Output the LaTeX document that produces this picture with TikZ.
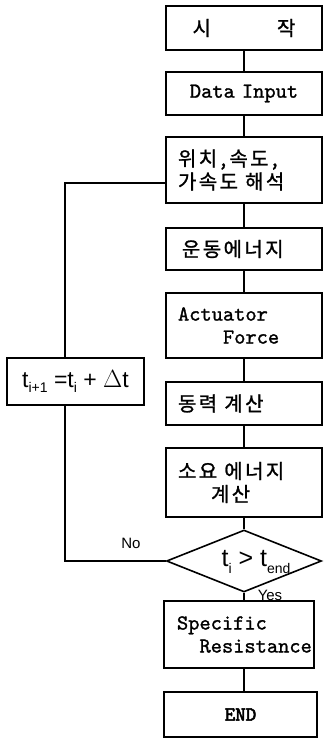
\documentclass[tikz,border=0pt]{standalone}
\usepackage{fontspec}
\newfontfamily\kr[LetterSpace=12,FakeBold=1.2]{Noto Sans CJK KR}
\newfontfamily\hand{Liberation Sans}
\newfontfamily\ty[FakeBold=1.2]{lmmono10-regular.otf}
\newfontfamily\tyb[FakeBold=3]{lmmono10-regular.otf}
\newcommand\krfont{\kr\fontsize{20}{23}\selectfont}
\newcommand\subtxt[1]{\raisebox{-0.25em}{\fontsize{14}{14}\selectfont #1}}
\usetikzlibrary{shapes.geometric}
\begin{document}
\begin{tikzpicture}[x=1pt,y=-1pt,line width=1.6pt,
  flowbox/.style={draw,rectangle,inner xsep=12pt,inner ysep=0pt,text width=132pt,align=left,
    font=\ty\fontsize{21.4}{23}\selectfont},
  lbl/.style={font=\hand\fontsize{15}{17}\selectfont,inner sep=0pt}]
\useasboundingbox (0,0) rectangle (324,740);
\node[flowbox,align=center,minimum height=44pt] (b1) at (244,28) {\krfont 시\hspace{66pt}작};
\node[flowbox,align=center,minimum height=43pt] (b2) at (244,93.5) {Data Input};
\node[flowbox,minimum height=66pt] (b3) at (244,170) {\krfont 위치\,,\,속도\,,\\가속도 해석};
\node[flowbox,minimum height=42pt] (b4) at (244,249) {\krfont \hspace*{4pt}운동에너지};
\node[flowbox,minimum height=65pt] (b5) at (244,325.5) {\mbox{Actuator}\\\mbox{\hspace*{45pt}Force}};
\node[flowbox,minimum height=43pt] (b6) at (244,403.5) {\krfont 동력 계산};
\node[flowbox,minimum height=69pt] (b7) at (244,482.5) {\krfont 소요 에너지\\\hspace*{33pt}계산};
\node[draw,diamond,minimum width=155pt,minimum height=62pt,inner sep=0pt] (d) at (244,561) {};
\node[font=\hand\fontsize{25}{26}\selectfont,inner sep=0pt] (dt) at (256,562) {t\subtxt{i} > t\subtxt{end}};
\node[flowbox,text width=137pt,inner xsep=6.5pt,minimum height=67pt] (s) at (239,634.5) {\mbox{\hspace*{6.5pt}Specific}\\\mbox{\hspace*{29pt}Resistance}};
\node[flowbox,text width=129pt,align=center,minimum height=45pt,font=\tyb\fontsize{20}{22}\selectfont] (e) at (240.5,714.5) {END};
\node[draw,rectangle,inner sep=0pt,minimum width=137pt,minimum height=47pt,font=\hand\fontsize{23}{24}\selectfont] (t) at (75.5,381.5) {t\subtxt{i+1} =t\subtxt{i} + $\Delta$t};
\node[lbl] (no) at (131,543) {No};
\node[lbl] (yes) at (270,595) {Yes};
\draw (b1.south) -- (b2.north);
\draw (b2.south) -- (b3.north);
\draw (b3.south) -- (b4.north);
\draw (b4.south) -- (b5.north);
\draw (b5.south) -- (b6.north);
\draw (b6.south) -- (b7.north);
\draw (b7.south) -- (d.north);
\draw (d.south) -- (d.south |- s.north);
\draw (d.south |- s.south) -- (d.south |- e.north);
\coordinate (j1) at (65,183);
\coordinate (j2) at (65,561);
\draw (b3.west |- j1) -- (j1) -- (j1 |- t.north);
\draw (t.south -| j2) -- (j2) -- (d.west);
\end{tikzpicture}
\end{document}
